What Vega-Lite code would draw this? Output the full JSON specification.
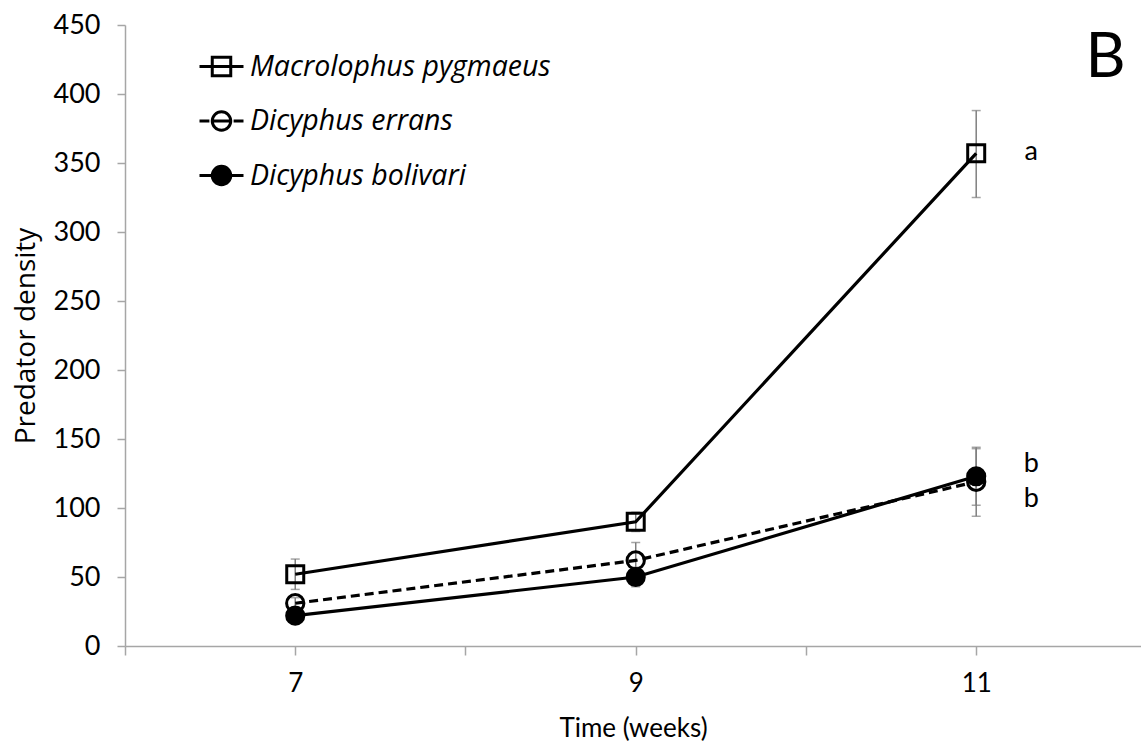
{
  "$schema": "https://vega.github.io/schema/vega-lite/v6.json",
  "width": 1016,
  "height": 621,
  "autosize": "none",
  "padding": {"left": 125, "top": 25, "right": 0, "bottom": 101},
  "background": "white",
  "config": {"view": {"stroke": null}, "font": "Lato", "text": {"font": "Lato"}},
  "datasets": {
    "series": [
      {"species": "Macrolophus pygmaeus", "week": 7, "density": 52, "lo": 41, "hi": 63},
      {"species": "Macrolophus pygmaeus", "week": 9, "density": 90, "lo": 83, "hi": 97},
      {"species": "Macrolophus pygmaeus", "week": 11, "density": 357, "lo": 325, "hi": 388},
      {"species": "Dicyphus errans", "week": 7, "density": 31, "lo": 27, "hi": 35},
      {"species": "Dicyphus errans", "week": 9, "density": 62, "lo": 51, "hi": 75},
      {"species": "Dicyphus errans", "week": 11, "density": 119, "lo": 94, "hi": 144},
      {"species": "Dicyphus bolivari", "week": 7, "density": 22, "lo": 19, "hi": 25},
      {"species": "Dicyphus bolivari", "week": 9, "density": 50, "lo": 43, "hi": 57},
      {"species": "Dicyphus bolivari", "week": 11, "density": 123, "lo": 102, "hi": 143}
    ],
    "letters": [
      {"label": "a", "week": 11, "density": 358},
      {"label": "b", "week": 11, "density": 132},
      {"label": "b", "week": 11, "density": 106.5}
    ],
    "panel": [
      {"label": "B", "week": 11.76, "density": 426}
    ]
  },
  "layer": [
    {
      "data": {"name": "series"},
      "mark": {"type": "point", "filled": true, "size": 1, "opacity": 0},
      "encoding": {
        "x": {"field": "week", "type": "quantitative", "scale": {"domain": [6, 11.968], "nice": false, "zero": false},
          "axis": {"values": [6, 7, 8, 9, 10, 11], "format": "d", "labelExpr": "datum.value % 2 == 1 ? datum.label : ''", "grid": false,
            "domainColor": "#a6a6a6", "domainWidth": 1.5, "tickColor": "#a6a6a6", "tickWidth": 1.5, "tickSize": 9,
            "labelFontSize": 26, "labelPadding": 15, "labelColor": "black", "labelFont": "Lato", "labelFlush": false, "labelOverlap": false,
            "title": "Time (weeks)", "titleFontSize": 26, "titleFont": "Lato", "titleFontWeight": "normal", "titleColor": "black", "titlePadding": 19}},
        "y": {"field": "density", "type": "quantitative", "scale": {"domain": [0, 450], "nice": false},
          "axis": {"values": [0, 50, 100, 150, 200, 250, 300, 350, 400, 450], "grid": false,
            "domainColor": "#a6a6a6", "domainWidth": 1.5, "tickColor": "#a6a6a6", "tickWidth": 1.5, "tickSize": 8,
            "labelFontSize": 27, "labelPadding": 17, "labelColor": "black", "labelFont": "Lato", "labelFlush": false, "labelOverlap": false,
            "title": "Predator density", "titleFontSize": 28, "titleFont": "Open Sans", "titleFontWeight": "normal", "titleColor": "black", "titlePadding": 13}},
        "shape": {"field": "species", "type": "nominal", "sort": null,
          "scale": {"domain": ["Macrolophus pygmaeus", "Dicyphus errans", "Dicyphus bolivari"],
            "range": ["M-1,0H1M-0.42,-0.42H0.42V0.42H-0.42Z",
                      "M-1,0H-0.55M-0.42,0H0.42M0.55,0H1M0.42,0A0.42,0.42 0 1,1 -0.42,0A0.42,0.42 0 1,1 0.42,0Z",
                      "M-1,0H1M0.42,0A0.42,0.42 0 1,1 -0.42,0A0.42,0.42 0 1,1 0.42,0Z"]},
          "legend": {"orient": "none", "legendX": 73, "legendY": 18, "title": null, "padding": 0,
            "symbolSize": 1936, "symbolStrokeColor": "black", "symbolStrokeWidth": 2.5, "symbolOpacity": 1,
            "labelFontSize": 28.5, "labelFont": "Open Sans", "labelFontStyle": "italic", "labelColor": "black", "labelOffset": 5, "labelLimit": 600,
            "rowPadding": 15.5,
            "encode": {"symbols": {"update": {"stroke": {"value": "black"}, "strokeWidth": {"value": 3}, "opacity": {"value": 1}}}}}},
        "fill": {"field": "species", "type": "nominal", "sort": null,
          "scale": {"domain": ["Macrolophus pygmaeus", "Dicyphus errans", "Dicyphus bolivari"], "range": ["transparent", "transparent", "black"]},
          "legend": {"orient": "none", "legendX": 73, "legendY": 18, "title": null, "padding": 0,
            "symbolSize": 1936, "symbolStrokeColor": "black", "symbolStrokeWidth": 2.5, "symbolOpacity": 1,
            "labelFontSize": 28.5, "labelFont": "Open Sans", "labelFontStyle": "italic", "labelColor": "black", "labelOffset": 5, "labelLimit": 600,
            "rowPadding": 15.5,
            "encode": {"symbols": {"update": {"stroke": {"value": "black"}, "strokeWidth": {"value": 3}, "opacity": {"value": 1}}}}}}
      }
    },
    {
      "data": {"name": "series"},
      "mark": {"type": "rule", "color": "#7f7f7f", "strokeWidth": 1.5},
      "encoding": {
        "x": {"field": "week", "type": "quantitative"},
        "y": {"field": "lo", "type": "quantitative"},
        "y2": {"field": "hi"}
      }
    },
    {
      "data": {"name": "series"},
      "mark": {"type": "tick", "orient": "horizontal", "color": "#7f7f7f", "thickness": 1.5, "size": 9},
      "encoding": {
        "x": {"field": "week", "type": "quantitative"},
        "y": {"field": "lo", "type": "quantitative"}
      }
    },
    {
      "data": {"name": "series"},
      "mark": {"type": "tick", "orient": "horizontal", "color": "#7f7f7f", "thickness": 1.5, "size": 9},
      "encoding": {
        "x": {"field": "week", "type": "quantitative"},
        "y": {"field": "hi", "type": "quantitative"}
      }
    },
    {
      "data": {"name": "series"},
      "transform": [{"filter": "datum.species != 'Dicyphus errans'"}],
      "mark": {"type": "line", "color": "black", "strokeWidth": 3.2},
      "encoding": {
        "x": {"field": "week", "type": "quantitative"},
        "y": {"field": "density", "type": "quantitative"},
        "detail": {"field": "species"}
      }
    },
    {
      "data": {"name": "series"},
      "transform": [{"filter": "datum.species == 'Dicyphus errans'"}],
      "mark": {"type": "line", "color": "black", "strokeWidth": 3.2, "strokeDash": [9, 5]},
      "encoding": {
        "x": {"field": "week", "type": "quantitative"},
        "y": {"field": "density", "type": "quantitative"}
      }
    },
    {
      "data": {"name": "series"},
      "transform": [{"filter": "datum.species == 'Macrolophus pygmaeus'"}],
      "mark": {"type": "point", "shape": "square", "filled": false, "stroke": "black", "strokeWidth": 3, "size": 289, "opacity": 1},
      "encoding": {
        "x": {"field": "week", "type": "quantitative"},
        "y": {"field": "density", "type": "quantitative"}
      }
    },
    {
      "data": {"name": "series"},
      "transform": [{"filter": "datum.species == 'Dicyphus errans'"}],
      "mark": {"type": "point", "shape": "circle", "filled": false, "stroke": "black", "strokeWidth": 3, "size": 300, "opacity": 1},
      "encoding": {
        "x": {"field": "week", "type": "quantitative"},
        "y": {"field": "density", "type": "quantitative"}
      }
    },
    {
      "data": {"name": "series"},
      "transform": [{"filter": "datum.species == 'Dicyphus bolivari'"}],
      "mark": {"type": "point", "shape": "circle", "filled": true, "fill": "black", "stroke": "black", "strokeWidth": 2, "size": 330, "opacity": 1},
      "encoding": {
        "x": {"field": "week", "type": "quantitative"},
        "y": {"field": "density", "type": "quantitative"}
      }
    },
    {
      "data": {"name": "letters"},
      "mark": {"type": "text", "dx": 55, "fontSize": 27, "font": "Lato", "color": "black", "align": "center", "baseline": "middle"},
      "encoding": {
        "x": {"field": "week", "type": "quantitative"},
        "y": {"field": "density", "type": "quantitative"},
        "text": {"field": "label"}
      }
    },
    {
      "data": {"name": "panel"},
      "mark": {"type": "text", "fontSize": 62, "font": "Lato", "color": "black", "align": "center", "baseline": "middle"},
      "encoding": {
        "x": {"field": "week", "type": "quantitative"},
        "y": {"field": "density", "type": "quantitative"},
        "text": {"field": "label"}
      }
    }
  ]
}
